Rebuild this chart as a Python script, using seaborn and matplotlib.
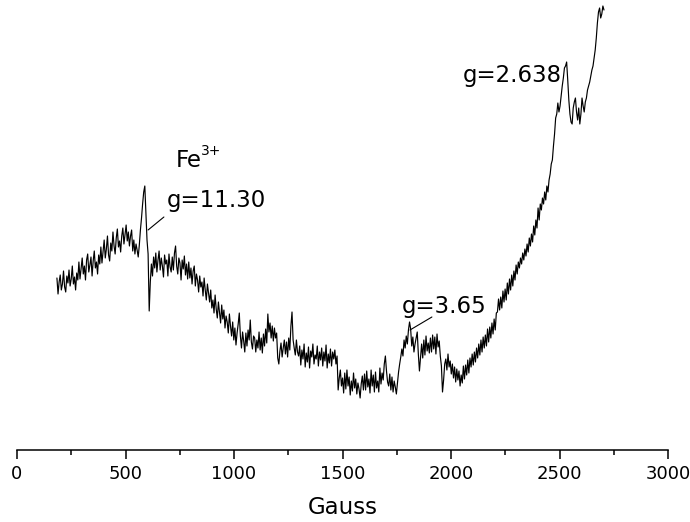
import numpy as np
import pandas as pd
import matplotlib
matplotlib.use("Agg")
import matplotlib.pyplot as plt
import seaborn as sns

# ---- data (EPR trace, arbitrary intensity units) ----
field_start, field_stop = 184, 2705   # Gauss
signal = [
    172, 156, 168, 175, 160, 166, 179, 163, 158, 174, 167, 180, 164, 171, 184, 166, 173, 160, 177, 170,
    188, 171, 182, 192, 176, 184, 170, 190, 196, 178, 185, 193, 174, 189, 199, 182, 188, 176, 195, 186,
    203, 187, 198, 210, 192, 201, 214, 195, 189, 207, 199, 218, 204, 196, 212, 221, 203, 209, 198, 214,
    222, 206, 216, 225, 209, 218, 204, 214, 220, 199, 210, 196, 206, 200, 193, 205, 220, 232, 246, 258,
    264, 236, 210, 196, 139, 168, 186, 174, 193, 182, 197, 178, 190, 199, 180, 192, 184, 173, 195, 186,
    190, 174, 196, 183, 178, 193, 180, 197, 204, 184, 176, 192, 187, 170, 190, 181, 194, 175, 186, 171,
    188, 172, 182, 166, 179, 184, 164, 176, 170, 158, 174, 163, 168, 154, 172, 160, 150, 166, 157, 148,
    160, 142, 150, 137, 155, 141, 132, 148, 138, 127, 145, 131, 140, 122, 134, 128, 117, 136, 124, 114,
    128, 110, 122, 105, 117, 126, 137, 114, 102, 118, 109, 98, 117, 104, 120, 110, 130, 108, 101, 114,
    112, 98, 110, 102, 118, 100, 112, 97, 116, 104, 121, 107, 136, 118, 127, 112, 124, 109, 122, 112,
    117, 92, 86, 99, 107, 93, 102, 110, 96, 108, 93, 112, 100, 124, 138, 110, 102, 95, 110, 98,
    94, 104, 85, 100, 91, 106, 83, 97, 88, 103, 82, 99, 93, 106, 86, 95, 91, 104, 84, 98,
    90, 102, 84, 98, 89, 105, 82, 96, 87, 101, 84, 98, 91, 100, 86, 94, 60, 72, 80, 64,
    72, 57, 77, 61, 80, 64, 73, 55, 69, 59, 77, 62, 71, 56, 67, 61, 52, 66, 74, 60,
    76, 60, 79, 63, 71, 57, 80, 64, 75, 58, 78, 62, 69, 58, 82, 66, 77, 70, 86, 94,
    79, 68, 64, 76, 60, 73, 58, 69, 63, 56, 67, 78, 86, 93, 101, 94, 110, 102, 114, 106,
    120, 128, 121, 104, 113, 98, 106, 112, 118, 96, 79, 92, 106, 92, 110, 95, 114, 99, 107, 97,
    112, 98, 115, 101, 113, 96, 116, 103, 109, 94, 84, 58, 70, 86, 91, 80, 96, 83, 89, 76,
    86, 72, 83, 68, 81, 70, 79, 64, 75, 67, 84, 71, 85, 75, 90, 77, 92, 83, 96, 85,
    98, 88, 102, 92, 106, 95, 110, 98, 113, 102, 115, 104, 121, 108, 123, 112, 127, 116, 131, 120,
    137, 138, 151, 140, 153, 142, 159, 148, 161, 150, 167, 156, 171, 160, 175, 164, 179, 170, 185, 176,
    188, 182, 192, 186, 197, 190, 201, 194, 206, 198, 212, 204, 216, 208, 224, 215, 230, 222, 242, 230,
    246, 240, 252, 246, 258, 250, 264, 258, 270, 276, 286, 290, 304, 316, 332, 336, 347, 338, 344, 354,
    364, 372, 382, 384, 388, 370, 350, 336, 328, 326, 342, 348, 352, 338, 330, 342, 326, 336, 352, 344,
    338, 348, 352, 360, 364, 368, 374, 380, 384, 392, 400, 412, 427, 438, 442, 432, 436, 444, 440,
]
field = np.linspace(field_start, field_stop, len(signal))

xticks = [0, 500, 1000, 1500, 2000, 2500, 3000]
xlabel = "Gauss"

# annotations: (text, x, y, size)
labels = [
    ("Fe", 733, 283, 16.5),
    ("3+", 848, 295, 10),
    ("g=11.30", 691, 243, 16.5),
    ("g=3.65", 1774, 137, 16.5),
    ("g=2.638", 2055, 368, 16.5),
]
pointers = [((604, 220), (677, 233)), ((1811, 120), (1912, 133))]

# ---- style ----
sns.set_style("white")
plt.rcParams["font.family"] = ["DejaVu Sans"]
plt.rcParams["text.color"] = "black"
plt.rcParams["axes.labelcolor"] = "black"
plt.rcParams["xtick.color"] = "black"
plt.rcParams["xtick.labelcolor"] = "black"

fig = plt.figure(figsize=(6.9, 5.22), dpi=100)
ax = fig.add_axes([17 / 690, 72 / 522, 651 / 690, 450 / 522])

df = pd.DataFrame({"Gauss": field, "Intensity": signal})
sns.lineplot(data=df, x="Gauss", y="Intensity", ax=ax, color="black",
             linewidth=0.85, estimator=None, sort=False)

ax.set_xlim(0, 3000)
ax.set_ylim(0, 450)
for s in ["left", "right", "top"]:
    ax.spines[s].set_visible(False)
ax.spines["bottom"].set_linewidth(1.1)
ax.spines["bottom"].set_color("black")
ax.set_yticks([])
ax.set_ylabel("")
ax.set_xticks(xticks)
ax.set_xticks(np.arange(250, 3000, 500), minor=True)
ax.tick_params(axis="x", which="major", direction="out", length=6.5,
               width=1.1, color="black", labelsize=13, pad=4, bottom=True)
ax.tick_params(axis="x", which="minor", direction="out", length=3.6,
               width=1.1, color="black", bottom=True)
ax.set_xlabel(xlabel, fontsize=16.5, labelpad=10, color="black")

for txt, x, y, fs in labels:
    ax.text(x, y, txt, fontsize=fs, ha="left", va="baseline", color="black")
for (p0, p1) in pointers:
    ax.annotate("", xy=p0, xytext=p1,
                arrowprops=dict(arrowstyle="-", lw=0.8, color="black",
                                shrinkA=0, shrinkB=0))

fig.savefig("out.png", dpi=100)
